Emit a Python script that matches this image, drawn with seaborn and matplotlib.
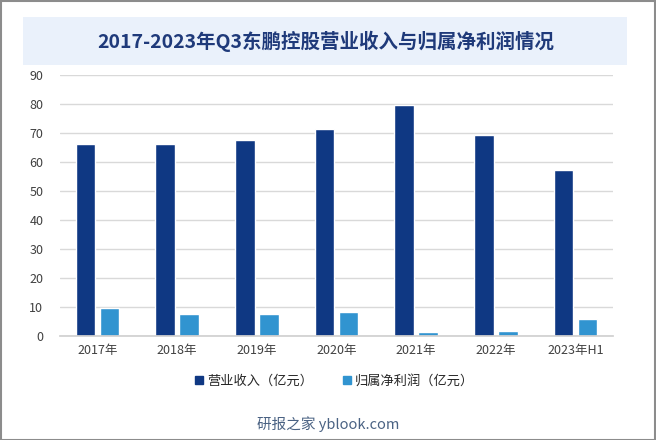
import numpy as np
import pandas as pd
import matplotlib
matplotlib.use("Agg")
import matplotlib.pyplot as plt
import seaborn as sns
from matplotlib.patches import Rectangle

# --- data ---
years = ['2017年', '2018年', '2019年', '2020年', '2021年', '2022年', '2023年H1']
revenue = [66.2, 66.2, 67.6, 71.4, 79.7, 69.3, 57.2]
net_profit = [9.7, 7.6, 7.6, 8.3, 1.4, 1.7, 5.9]
series_names = ['营业收入（亿元）', '归属净利润（亿元）']
y_ticks = [0, 10, 20, 30, 40, 50, 60, 70, 80, 90]

df = pd.DataFrame({
    'year': years * 2,
    'value': revenue + net_profit,
    'series': [series_names[0]] * len(years) + [series_names[1]] * len(years),
})

sns.set_theme(style="white")
plt.rcParams['font.family'] = ['Noto Sans CJK SC', 'DejaVu Sans']

colors = ['#0F3883', '#3194D0']

fig = plt.figure(figsize=(6.56, 4.4), dpi=100)
ax = fig.add_axes([0.0915, 0.236, 0.843, 0.593])

sns.barplot(data=df, x='year', y='value', hue='series', palette=colors,
            width=0.6, gap=0.18, ax=ax, legend=False, saturation=1)

ax.set_ylim(0, 90)
ax.set_yticks(y_ticks)
ax.set_xlim(-0.47, len(years) - 0.53)
ax.yaxis.grid(True, color='#D9D9D9', linewidth=1)
ax.set_axisbelow(True)
for s in ['top', 'right', 'left']:
    ax.spines[s].set_visible(False)
ax.spines['bottom'].set_color('#D0D0D0')
ax.tick_params(axis='both', length=0, labelsize=9, colors='#404040')
ax.tick_params(axis='y', pad=12)
ax.tick_params(axis='x', pad=6)
ax.set_xlabel('')
ax.set_ylabel('')

# legend
handles = [Rectangle((0, 0), 1, 1, color=c) for c in colors]
fig.legend(handles, series_names, loc='center', bbox_to_anchor=(0.51, 0.134),
           ncol=2, frameon=False, fontsize=9.5, handlelength=0.6, handleheight=0.6,
           handletextpad=0.3, columnspacing=2.3)

# title box
fig.patches.append(Rectangle((0.035, 0.852), 0.921, 0.109, transform=fig.transFigure,
                             facecolor='#EAF1FB', edgecolor='none', zorder=0))
fig.text(0.496, 0.907, '2017-2023年Q3东鹏控股营业收入与归属净利润情况', ha='center', va='center',
         fontsize=14, fontweight='bold', color='#1F3A7A')

# footer
fig.text(0.5, 0.036, '研报之家 yblook.com', ha='center', va='center',
         fontsize=10.5, color='#4A6283')

# outer border
fig.patches.append(Rectangle((0.001, 0.001), 0.997, 0.997, transform=fig.transFigure,
                             facecolor='none', edgecolor='#8C8C8C', linewidth=1.5))

fig.savefig('out.png', dpi=100)
